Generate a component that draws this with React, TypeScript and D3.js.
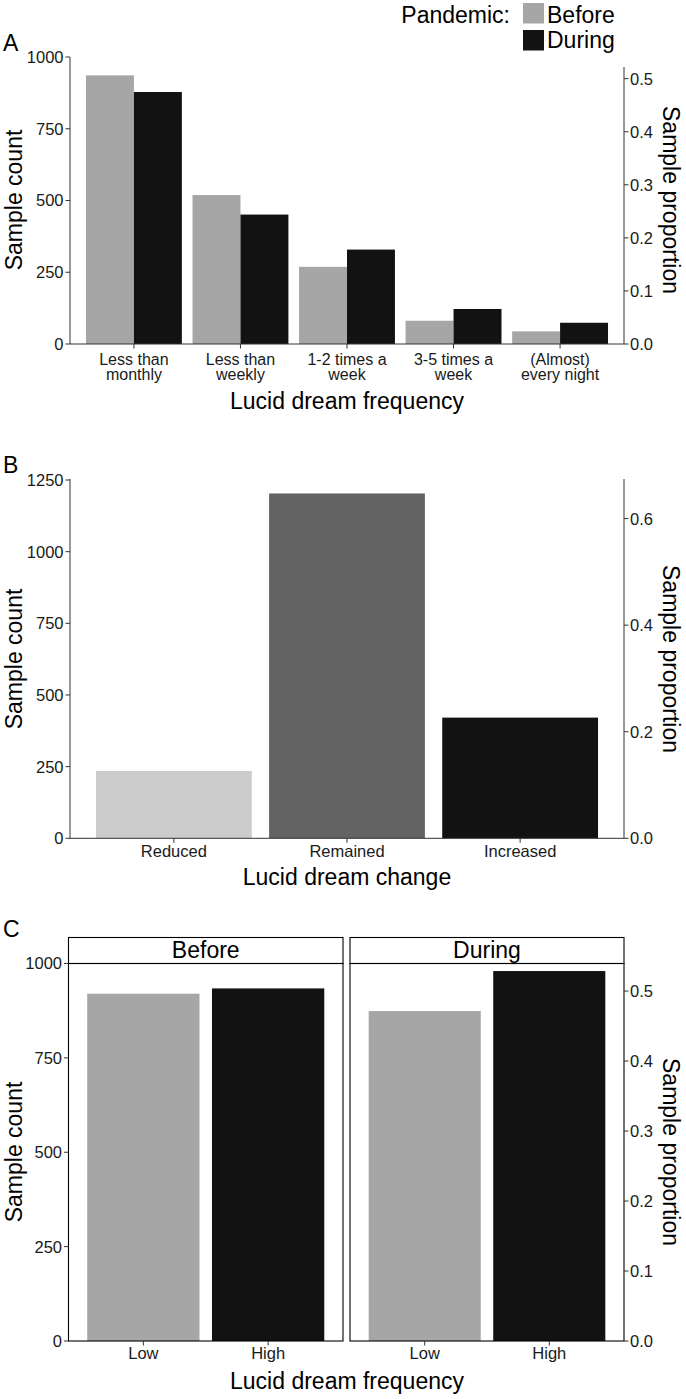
import React from 'react'
import * as d3 from 'd3'

// panel A: lucid dream frequency before / during the pandemic
const freqCats = ['Less than\nmonthly', 'Less than\nweekly', '1-2 times a\nweek', '3-5 times a\nweek', '(Almost)\nevery night']
const pandemic = ['Before', 'During']
const freqBefore = [936, 519, 269, 81, 44]
const freqDuring = [878, 451, 329, 122, 74]
const countTicksA = [0, 250, 500, 750, 1000]
const propTicksA = [0, 0.1, 0.2, 0.3, 0.4, 0.5]

// panel B: change in lucid dreaming
const changeCats = ['Reduced', 'Remained', 'Increased']
const changeCounts = [235, 1203, 421]
const countTicksB = [0, 250, 500, 750, 1000, 1250]
const propTicksB = [0, 0.2, 0.4, 0.6]

// panel C: low / high frequency, faceted by pandemic period
const levelCats = ['Low', 'High']
const levelBefore = [920, 934]
const levelDuring = [874, 980]
const countTicksC = [0, 250, 500, 750, 1000]
const propTicksC = [0, 0.1, 0.2, 0.3, 0.4, 0.5]

const pandemicColors = ['#a6a6a6', '#121212']
const changeColors = ['#cccccc', '#636363', '#121212']

const FONT = 'Liberation Sans, Arial, Helvetica, sans-serif'
const TICK = 16.5
const TITLE = 23
const INK = '#1a1a1a'
const AX = '#333'

const fmtCount = d3.format('d')
const fmtProp = d3.format('.1f')

// ggplot-like discrete scale: 0.6 step expansion on both sides, bars 0.9 wide
const bandX = (cats: string[], x0: number, x1: number) =>
  d3.scaleBand<string>().domain(cats).range([x0, x1]).paddingInner(0.1).paddingOuter(0.15)

function LeftAxis({ scale, ticks, x, top, line = true }: any) {
  const [bottom] = scale.range()
  return (
    <g>
      {line && <line x1={x} x2={x} y1={top} y2={bottom} stroke={AX} strokeWidth={1} />}
      {ticks.map((t: number) => (
        <g key={t}>
          <line x1={x - 4.5} x2={x} y1={scale(t)} y2={scale(t)} stroke={AX} />
          <text x={x - 6.5} y={scale(t)} dy="0.36em" textAnchor="end" fontSize={TICK} fill={INK}>
            {fmtCount(t)}
          </text>
        </g>
      ))}
    </g>
  )
}

function RightAxis({ scale, ticks, x, top, line = true }: any) {
  const [bottom] = scale.range()
  return (
    <g>
      {line && <line x1={x} x2={x} y1={top} y2={bottom} stroke={AX} strokeWidth={1} />}
      {ticks.map((t: number) => (
        <g key={t}>
          <line x1={x} x2={x + 4.5} y1={scale(t)} y2={scale(t)} stroke={AX} />
          <text x={x + 6} y={scale(t)} dy="0.36em" fontSize={TICK} fill={INK}>
            {fmtProp(t)}
          </text>
        </g>
      ))}
    </g>
  )
}

function BottomTicks({ scale, y, labelY, lineGap = 15.5, size = TICK }: any) {
  return (
    <g>
      {scale.domain().map((c: string) => {
        const cx = scale(c) + scale.bandwidth() / 2
        return (
          <g key={c}>
            <line x1={cx} x2={cx} y1={y} y2={y + 4.5} stroke={AX} />
            <text x={cx} y={labelY} textAnchor="middle" fontSize={size} fill={INK}>
              {c.split('\n').map((s, i) => (
                <tspan key={i} x={cx} dy={i === 0 ? 0 : lineGap}>{s}</tspan>
              ))}
            </text>
          </g>
        )
      })}
    </g>
  )
}

const YTitles = ({ cy }: { cy: number }) => (
  <g fontSize={TITLE} fill="#000">
    <text transform={`translate(21.5,${cy}) rotate(-90)`} textAnchor="middle">Sample count</text>
    <text transform={`translate(663,${cy}) rotate(90)`} textAnchor="middle">Sample proportion</text>
  </g>
)

function PanelA() {
  const x = bandX(freqCats, 70, 624)
  const inner = d3.scaleBand<string>().domain(pandemic).range([0, x.bandwidth()])
  const y = d3.scaleLinear().domain([0, 1000]).range([344, 57])
  const n = d3.sum(freqBefore)
  const yp = d3.scaleLinear().domain([0, 1000 / n]).range([344, 57])
  const series = [freqBefore, freqDuring]
  return (
    <g>
      <text x={3} y={51} fontSize={TITLE}>A</text>
      {/* legend */}
      <g fontSize={TITLE}>
        <text x={510} y={23} textAnchor="end">Pandemic:</text>
        {pandemic.map((p, i) => (
          <g key={p}>
            <rect x={523} y={3 + i * 27} width={21} height={20.5} fill={pandemicColors[i]} />
            <text x={547} y={23 + i * 24.5}>{p}</text>
          </g>
        ))}
      </g>
      {series.map((vals, s) =>
        freqCats.map((c, i) => (
          <rect key={c + s} x={(x(c) as number) + (inner(pandemic[s]) as number)} y={y(vals[i])}
            width={inner.bandwidth()} height={y(0) - y(vals[i])} fill={pandemicColors[s]} />
        ))
      )}
      <line x1={70} x2={624} y1={344} y2={344} stroke={AX} />
      <LeftAxis scale={y} ticks={countTicksA} x={70} top={57} />
      <RightAxis scale={yp} ticks={propTicksA} x={624} top={67} />
      <BottomTicks scale={x} y={344} labelY={364.5} size={16} />
      <text x={347} y={409} textAnchor="middle" fontSize={TITLE}>Lucid dream frequency</text>
      <YTitles cy={200} />
    </g>
  )
}

function PanelB() {
  const x = bandX(changeCats, 70, 624)
  const y = d3.scaleLinear().domain([0, 1250]).range([838.3, 480])
  const n = d3.sum(changeCounts)
  const yp = d3.scaleLinear().domain([0, 1250 / n]).range([838.3, 480])
  return (
    <g>
      <text x={3} y={473} fontSize={TITLE}>B</text>
      {changeCats.map((c, i) => (
        <rect key={c} x={x(c)} y={y(changeCounts[i])} width={x.bandwidth()}
          height={y(0) - y(changeCounts[i])} fill={changeColors[i]} />
      ))}
      <line x1={70} x2={624} y1={838.3} y2={838.3} stroke={AX} />
      <LeftAxis scale={y} ticks={countTicksB} x={70} top={479} />
      <RightAxis scale={yp} ticks={propTicksB} x={624} top={479} />
      <BottomTicks scale={x} y={838.3} labelY={857} />
      <text x={347} y={885} textAnchor="middle" fontSize={TITLE}>Lucid dream change</text>
      <YTitles cy={659} />
    </g>
  )
}

function PanelC() {
  const facets = [
    { name: pandemic[0], vals: levelBefore, x0: 68.5, x1: 343 },
    { name: pandemic[1], vals: levelDuring, x0: 350, x1: 624 },
  ]
  const stripTop = 937.5
  const top = 963.5
  const bottom = 1341
  const y = d3.scaleLinear().domain([0, 1000]).range([bottom, top])
  const n = d3.sum(levelBefore)
  const yp = d3.scaleLinear().domain([0, 1000 / n]).range([bottom, top])
  return (
    <g>
      <text x={3} y={937} fontSize={TITLE}>C</text>
      {facets.map(f => {
        const x = bandX(levelCats, f.x0, f.x1)
        return (
          <g key={f.name}>
            {levelCats.map((c, i) => (
              <rect key={c} x={x(c)} y={y(f.vals[i])} width={x.bandwidth()}
                height={y(0) - y(f.vals[i])} fill={pandemicColors[i]} />
            ))}
            <rect x={f.x0} y={stripTop} width={f.x1 - f.x0} height={top - stripTop} fill="#fff" stroke="#000" strokeWidth={1.1} />
            <text x={(f.x0 + f.x1) / 2} y={958} textAnchor="middle" fontSize={TITLE}>{f.name}</text>
            <rect x={f.x0} y={top} width={f.x1 - f.x0} height={bottom - top} fill="none" stroke="#000" strokeWidth={1.1} />
            <BottomTicks scale={x} y={bottom} labelY={1359} />
          </g>
        )
      })}
      <LeftAxis scale={y} ticks={countTicksC} x={68.5} top={top} line={false} />
      <RightAxis scale={yp} ticks={propTicksC} x={624} top={top} line={false} />
      <text x={347} y={1389} textAnchor="middle" fontSize={TITLE}>Lucid dream frequency</text>
      <YTitles cy={1152} />
    </g>
  )
}

export default function App() {
  return (
    <svg width={686} height={1399} fontFamily={FONT}
      style={{ position: 'absolute', left: 0, top: 0, background: '#fff' }}>
      <rect width={686} height={1399} fill="#fff" />
      <PanelA />
      <PanelB />
      <PanelC />
    </svg>
  )
}
